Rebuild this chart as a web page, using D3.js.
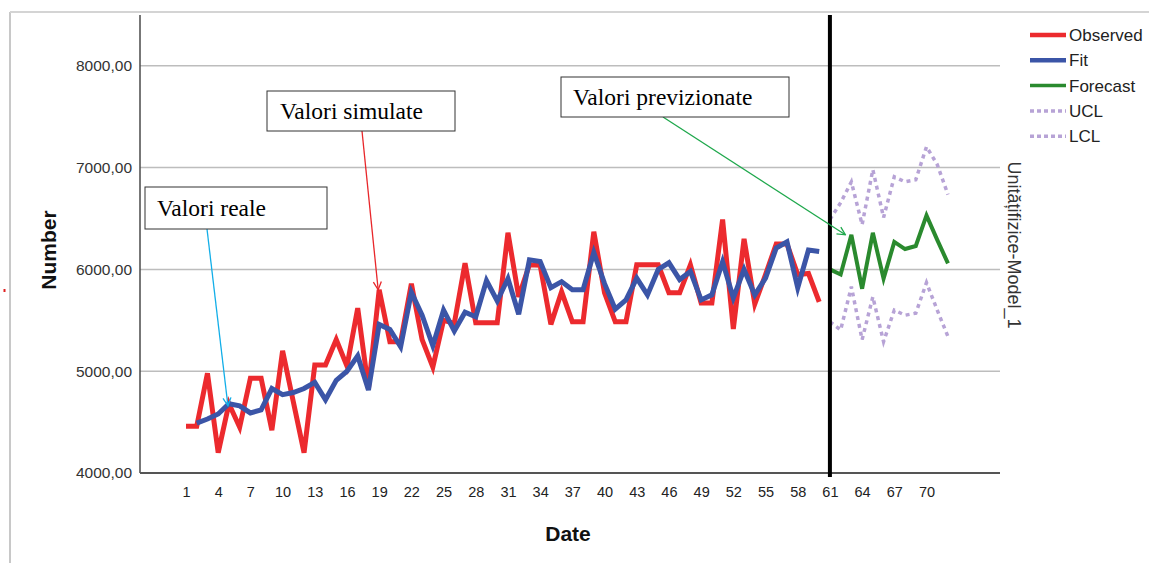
<!DOCTYPE html>
<html>
<head>
<meta charset="utf-8">
<script src="https://cdn.jsdelivr.net/npm/d3@7"></script>
<style>
  body { margin: 0; background: #fff; }
  svg { display: block; }
</style>
</head>
<body>
<svg id="chart" width="1149" height="563"></svg>
<script>
// ---- data ----
// Observed units, periods 1..60
const observed = [
  4460, 4460, 4980, 4200, 4680, 4450, 4930, 4930, 4420, 5200,
  4700, 4200, 5060, 5060, 5310, 5050, 5620, 4830, 5800, 5290,
  5290, 5860, 5310, 5040, 5500, 5470, 6060, 5475, 5475, 5475,
  6360, 5730, 6045, 6040, 5460, 5780, 5485, 5485, 6370, 5770,
  5485, 5485, 6045, 6045, 6045, 5770, 5770, 6045, 5670, 5670,
  6490, 5415, 6300, 5660, 5950, 6250, 6250, 5950, 5960, 5680
];
// Model fit, periods 1..60 (no fitted value for period 1)
const fit = [
  null, 4490, 4530, 4580, 4680, 4660, 4590, 4620, 4830, 4770,
  4790, 4830, 4890, 4720, 4910, 5000, 5150, 4815, 5460, 5410,
  5240, 5775, 5550, 5250, 5600, 5395, 5580, 5535, 5890, 5690,
  5910, 5560, 6095, 6078, 5820, 5880, 5800, 5800, 6165, 5860,
  5610, 5700, 5915, 5750, 6000, 6065, 5900, 5980, 5700, 5750,
  6075, 5720, 6000, 5750, 5915, 6210, 6270, 5820, 6190, 6175
];
// Forecast and confidence limits, periods 61..72
const forecastStart = 61;
const forecast = [6000, 5950, 6340, 5810, 6360, 5910, 6270, 6200, 6230, 6530, 6290, 6060];
const ucl      = [6490, 6655, 6860, 6440, 6980, 6510, 6910, 6860, 6880, 7205, 7030, 6735];
const lcl      = [5485, 5405, 5830, 5310, 5730, 5290, 5600, 5550, 5570, 5870, 5600, 5340];

const xTickValues = [1, 4, 7, 10, 13, 16, 19, 22, 25, 28, 31, 34, 37, 40, 43, 46, 49, 52, 55, 58, 61, 64, 67, 70];
const yTickValues = [4000, 5000, 6000, 7000, 8000];
const gridValues  = [5000, 6000, 7000, 8000];
const legendLabels = ["Observed", "Fit", "Forecast", "UCL", "LCL"];

const annotations = [
  { text: "Valori reale",        series: "fit",      period: 5,  color: "#12aee8" },
  { text: "Valori simulate",     series: "observed", period: 19, color: "#e8262a" },
  { text: "Valori previzionate", series: "forecast", period: 63, color: "#1fa84c" }
];

// ---- styling ----
const colors = {
  observed: "#ec2a2e",
  fit: "#3b55a7",
  forecast: "#2a8a2e",
  limit: "#b7a3d6"
};
const sansFont = "'Liberation Sans', Arial, sans-serif";
const serifFont = "'Liberation Serif', 'Times New Roman', serif";

const svg = d3.select("#chart");
const plot = { left: 140, right: 1000, top: 20, bottom: 473 };

const x = d3.scaleLinear().domain([1, 70]).range([186, 926.5]);
const y = d3.scaleLinear().domain([4000, 8450]).range([plot.bottom, plot.top]);

// outer frame
svg.append("line").attr("x1", 10).attr("x2", 10).attr("y1", 12).attr("y2", 563)
  .attr("stroke", "#c8c8c8").attr("stroke-width", 2);
svg.append("line").attr("x1", 10).attr("x2", 1149).attr("y1", 12).attr("y2", 12)
  .attr("stroke", "#d4d4d4").attr("stroke-width", 2);
svg.append("rect").attr("x", 3.5).attr("y", 289).attr("width", 2).attr("height", 3)
  .attr("fill", "#e02020");

// gridlines
svg.append("g").selectAll("line").data(gridValues).join("line")
  .attr("x1", plot.left).attr("x2", plot.right)
  .attr("y1", d => y(d)).attr("y2", d => y(d))
  .attr("stroke", "#bdbdbd").attr("stroke-width", 1.5);

// y axis
const yAxis = d3.axisLeft(y)
  .tickValues(yTickValues)
  .tickSize(0)
  .tickPadding(8)
  .tickFormat(d => d3.format(".2f")(d).replace(".", ","));
const gy = svg.append("g").attr("transform", `translate(${plot.left},0)`).call(yAxis);
gy.select(".domain").remove();
gy.selectAll("text")
  .attr("font-family", sansFont).attr("font-size", 15.5).attr("fill", "#333");
svg.append("line").attr("x1", plot.left).attr("x2", plot.left)
  .attr("y1", plot.top - 5).attr("y2", plot.bottom)
  .attr("stroke", "#4a4a4a").attr("stroke-width", 1.5);

// x axis
const xAxis = d3.axisBottom(x).tickValues(xTickValues).tickSize(0).tickPadding(14);
const gx = svg.append("g").attr("transform", `translate(0,${plot.bottom})`).call(xAxis);
gx.select(".domain").remove();
gx.selectAll("text")
  .attr("font-family", sansFont).attr("font-size", 14.5).attr("fill", "#222");
svg.append("line").attr("x1", plot.left).attr("x2", plot.right)
  .attr("y1", plot.bottom).attr("y2", plot.bottom)
  .attr("stroke", "#555").attr("stroke-width", 2);

// axis titles
svg.append("text")
  .attr("transform", `translate(56,250) rotate(-90)`)
  .attr("text-anchor", "middle")
  .attr("font-family", sansFont).attr("font-weight", "bold").attr("font-size", 21)
  .attr("fill", "#111")
  .text("Number");
svg.append("text")
  .attr("x", 568).attr("y", 541)
  .attr("text-anchor", "middle")
  .attr("font-family", sansFont).attr("font-weight", "bold").attr("font-size", 21)
  .attr("fill", "#111")
  .text("Date");

// series
const observedPts = observed.map((v, i) => ({ t: i + 1, v }));
const fitPts = fit.map((v, i) => ({ t: i + 1, v }));
const forecastPts = forecast.map((v, i) => ({ t: forecastStart + i, v }));
const uclPts = ucl.map((v, i) => ({ t: forecastStart + i, v }));
const lclPts = lcl.map((v, i) => ({ t: forecastStart + i, v }));

const line = d3.line()
  .defined(d => d.v != null)
  .x(d => x(d.t)).y(d => y(d.v));

function drawSeries(pts, color, width, dash) {
  const p = svg.append("path").datum(pts)
    .attr("fill", "none")
    .attr("stroke", color)
    .attr("stroke-width", width)
    .attr("stroke-linejoin", "miter")
    .attr("d", line);
  if (dash) p.attr("stroke-dasharray", dash);
  return p;
}

drawSeries(uclPts, colors.limit, 3.5, "4,4");
drawSeries(lclPts, colors.limit, 3.5, "4,4");
drawSeries(observedPts, colors.observed, 5);
drawSeries(fitPts, colors.fit, 5);
drawSeries(forecastPts, colors.forecast, 4);

// forecast origin marker
svg.append("line")
  .attr("x1", x(forecastStart)).attr("x2", x(forecastStart))
  .attr("y1", plot.top - 5).attr("y2", plot.bottom + 4)
  .attr("stroke", "#000").attr("stroke-width", 4);

// model label on the right
svg.append("text")
  .attr("transform", "translate(1008,245) rotate(90)")
  .attr("text-anchor", "middle")
  .attr("font-family", sansFont).attr("font-size", 18)
  .attr("fill", "#333")
  .text("Unitățifizice-Model_1");

// legend
const legend = svg.append("g").attr("transform", "translate(1030,35)");
const legendStyles = [
  { color: colors.observed, width: 4.5, dash: null },
  { color: colors.fit, width: 4.5, dash: null },
  { color: colors.forecast, width: 3.5, dash: null },
  { color: colors.limit, width: 3.5, dash: "4,3" },
  { color: colors.limit, width: 3.5, dash: "4,3" }
];
const li = legend.selectAll("g").data(legendLabels).join("g")
  .attr("transform", (d, i) => `translate(0,${i * 25.3})`);
li.append("line")
  .attr("x1", 0).attr("x2", 36).attr("y1", 0).attr("y2", 0)
  .attr("stroke", (d, i) => legendStyles[i].color)
  .attr("stroke-width", (d, i) => legendStyles[i].width)
  .attr("stroke-dasharray", (d, i) => legendStyles[i].dash);
li.append("text")
  .attr("x", 39).attr("y", 6)
  .attr("font-family", sansFont).attr("font-size", 17)
  .attr("fill", "#222")
  .text(d => d);

// annotation boxes with arrows
const boxes = [
  { x: 145, y: 187, w: 182, h: 42, tx: 157, ty: 216, ax: 207 },
  { x: 267, y: 91,  w: 188, h: 40, tx: 280, ty: 119, ax: 362 },
  { x: 561, y: 77,  w: 228, h: 40, tx: 573, ty: 105, ax: 663 }
];
const seriesLookup = {
  observed: t => observed[t - 1],
  fit: t => fit[t - 1],
  forecast: t => forecast[t - forecastStart]
};
const defs = svg.append("defs");
annotations.forEach((a, i) => {
  const b = boxes[i];
  const id = "arrow" + i;
  defs.append("marker")
    .attr("id", id)
    .attr("viewBox", "0 0 10 10")
    .attr("refX", 9).attr("refY", 5)
    .attr("markerWidth", 10).attr("markerHeight", 10)
    .attr("markerUnits", "userSpaceOnUse")
    .attr("orient", "auto")
    .append("path")
    .attr("d", "M1,1 L9,5 L1,9")
    .attr("fill", "none")
    .attr("stroke", a.color)
    .attr("stroke-width", 1.3);

  const tipX = x(a.period) - (a.series === "forecast" ? 6 : 1);
  const tipY = y(seriesLookup[a.series](a.period)) + (a.series === "fit" ? 2 : 0);
  svg.append("line")
    .attr("x1", b.ax).attr("y1", b.y + b.h)
    .attr("x2", tipX).attr("y2", tipY)
    .attr("stroke", a.color).attr("stroke-width", 1.3)
    .attr("marker-end", `url(#${id})`);

  svg.append("rect")
    .attr("x", b.x).attr("y", b.y).attr("width", b.w).attr("height", b.h)
    .attr("fill", "#fff").attr("stroke", "#333").attr("stroke-width", 1);
  svg.append("text")
    .attr("x", b.tx).attr("y", b.ty)
    .attr("font-family", serifFont).attr("font-size", 23.5)
    .attr("fill", "#000")
    .text(a.text);
});
</script>
</body>
</html>
